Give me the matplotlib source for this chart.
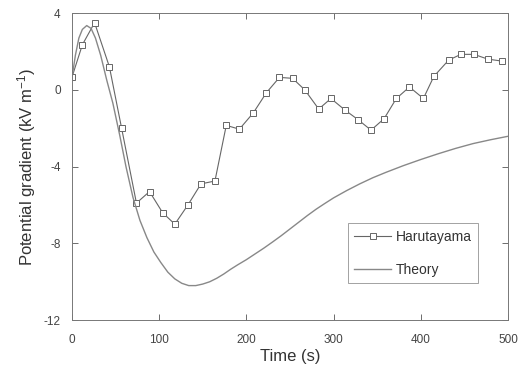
import matplotlib
matplotlib.use('Agg')
import matplotlib.pyplot as plt

# Harutayama observations (time s, potential gradient kV/m)
obs_t = [0, 12, 26, 43, 57, 74, 89, 104, 118, 133, 148, 164, 177, 192, 208,
         223, 238, 253, 267, 283, 297, 313, 328, 343, 358, 372, 387, 403,
         415, 432, 446, 461, 477, 493]
obs_v = [0.65, 2.35, 3.5, 1.2, -2.0, -5.9, -5.3, -6.4, -7.0, -6.0, -4.9, -4.75,
         -1.85, -2.05, -1.2, -0.15, 0.65, 0.6, 0.0, -1.0, -0.45, -1.05, -1.55,
         -2.1, -1.5, -0.45, 0.15, -0.45, 0.7, 1.55, 1.85, 1.85, 1.6, 1.5]

# Theory curve
theory_t = [0, 4, 8, 12, 17, 22, 27, 33, 40, 47, 55, 62, 70, 78, 86, 94, 102,
            110, 118, 126, 134, 142, 150, 158, 166, 174, 182, 190, 200, 210,
            220, 230, 240, 250, 260, 270, 280, 290, 300, 315, 330, 345, 360,
            380, 400, 420, 440, 460, 480, 500]
theory_v = [0.6, 1.8, 2.7, 3.15, 3.35, 3.2, 2.7, 1.8, 0.5, -0.7, -2.4, -4.0,
            -5.6, -6.8, -7.7, -8.45, -9.0, -9.5, -9.85, -10.08, -10.2, -10.2,
            -10.12, -10.0, -9.82, -9.6, -9.35, -9.12, -8.85, -8.55, -8.25,
            -7.93, -7.6, -7.25, -6.9, -6.55, -6.22, -5.92, -5.63, -5.25, -4.9,
            -4.58, -4.3, -3.95, -3.63, -3.33, -3.05, -2.8, -2.6, -2.42]

x_ticks = [0, 100, 200, 300, 400, 500]
y_ticks = [-12, -8, -4, 0, 4]

plt.rcParams['font.family'] = ['Liberation Sans', 'DejaVu Sans']
plt.rcParams['mathtext.fontset'] = 'custom'
plt.rcParams['mathtext.rm'] = 'Liberation Sans'
plt.rcParams['mathtext.it'] = 'Liberation Sans'
plt.rcParams['axes.unicode_minus'] = False

fig = plt.figure(figsize=(5.21, 3.74), dpi=100)
ax = fig.add_axes([0.138, 0.144, 0.837, 0.821])

ink = '#555555'
ax.plot(obs_t, obs_v, color='#666666', linewidth=0.8, marker='s',
        markersize=5, markerfacecolor='white', markeredgecolor='#666666',
        markeredgewidth=0.7, label='Harutayama')
ax.plot(theory_t, theory_v, color='#888888', linewidth=1.0, label='Theory')

ax.set_xlim(0, 500)
ax.set_ylim(-12, 4)
ax.set_xticks(x_ticks)
ax.set_yticks(y_ticks)
ax.tick_params(direction='in', top=True, right=True, length=4, width=0.6,
               colors=ink, labelsize=8.5, labelcolor='#444444')
ax.tick_params(axis='x', pad=10)
ax.tick_params(axis='y', pad=8)
for s in ax.spines.values():
    s.set_color('#777777')
    s.set_linewidth(0.7)

ax.set_xlabel('Time (s)', fontsize=12, color='#333333', labelpad=2)
ax.set_ylabel('Potential gradient (kV m$^{-1}$)', fontsize=12,
              color='#333333', labelpad=4)

leg = ax.legend(loc='lower right', bbox_to_anchor=(0.931, 0.12), fontsize=10,
                frameon=True, fancybox=False, edgecolor='#777777',
                borderaxespad=0, handlelength=2.7, borderpad=0.45,
                labelspacing=1.4, handletextpad=0.3)
leg.get_frame().set_linewidth(0.6)
for t in leg.get_texts():
    t.set_color('#333333')

fig.savefig('out.png', dpi=100)
